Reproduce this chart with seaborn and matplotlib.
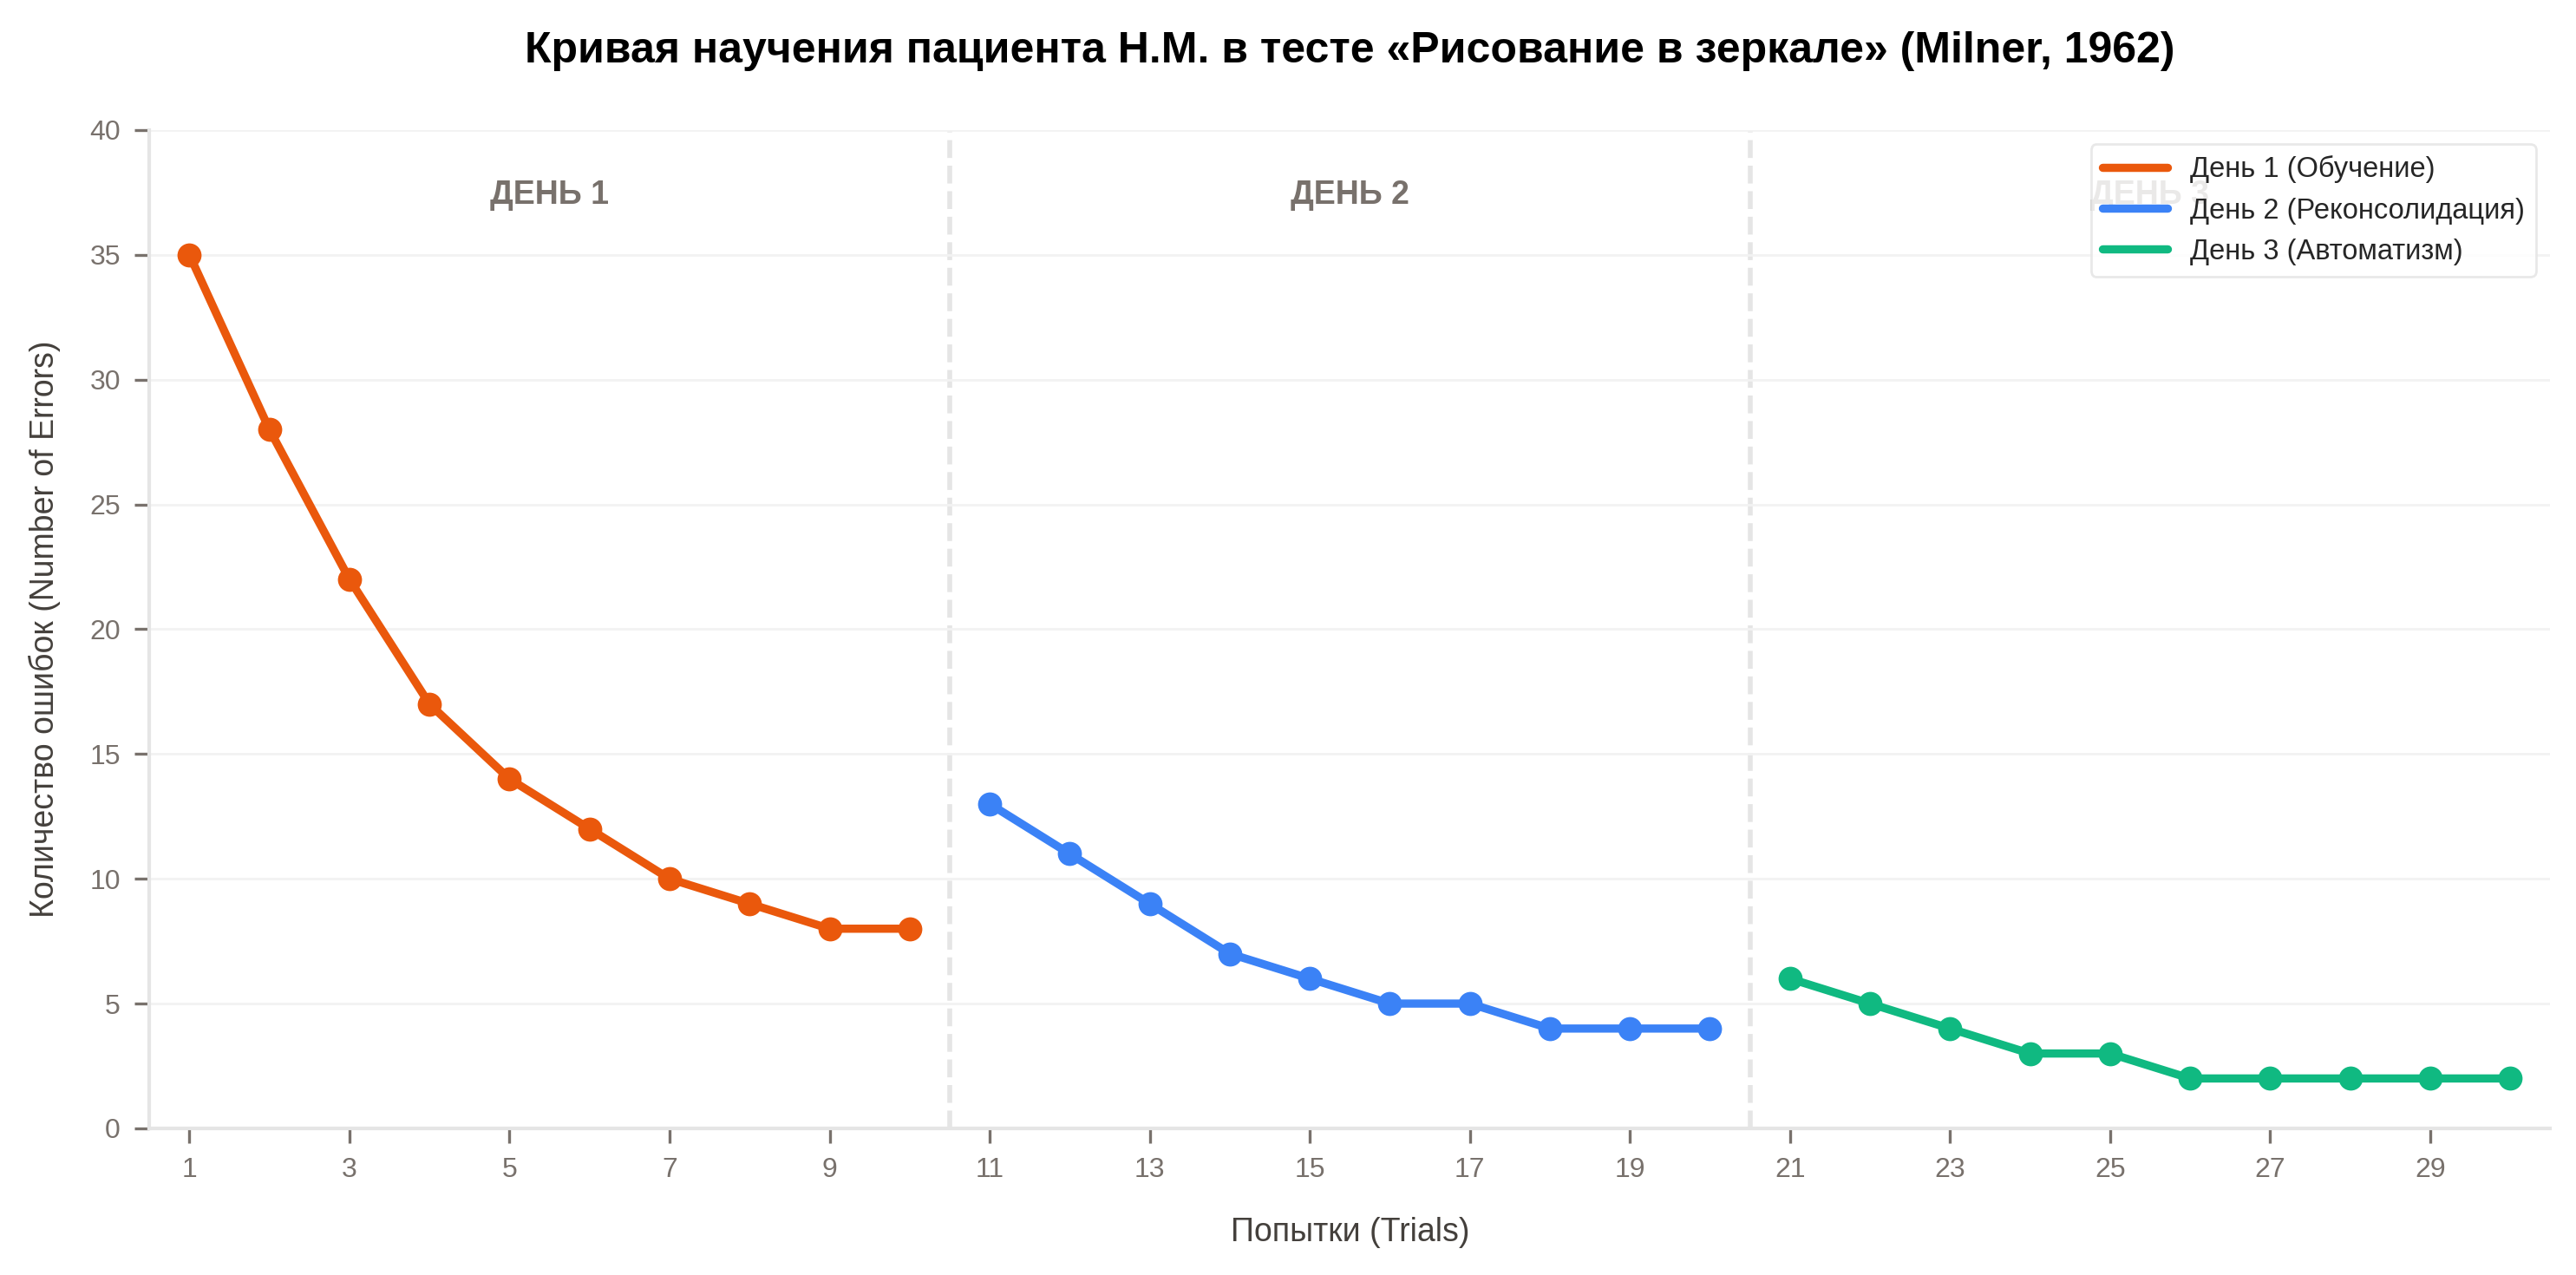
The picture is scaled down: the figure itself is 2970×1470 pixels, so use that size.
import pandas as pd
import matplotlib.pyplot as plt
from matplotlib.lines import Line2D
import seaborn as sns

sns.set_style("white")
plt.rcParams['font.family'] = ['Liberation Sans', 'DejaVu Sans']

# data
trials_day1 = list(range(1, 11))
trials_day2 = list(range(11, 21))
trials_day3 = list(range(21, 31))
errors_day1 = [35, 28, 22, 17, 14, 12, 10, 9, 8, 8]
errors_day2 = [13, 11, 9, 7, 6, 5, 5, 4, 4, 4]
errors_day3 = [6, 5, 4, 3, 3, 2, 2, 2, 2, 2]
day_names = ["День 1 (Обучение)", "День 2 (Реконсолидация)", "День 3 (Автоматизм)"]
day_tags = ["ДЕНЬ 1", "ДЕНЬ 2", "ДЕНЬ 3"]
colors = ["#ea580c", "#3b82f6", "#10b981"]

dataframe = pd.DataFrame({
    "Trial": trials_day1 + trials_day2 + trials_day3,
    "Errors": errors_day1 + errors_day2 + errors_day3,
    "Day": [day_names[0]] * 10 + [day_names[1]] * 10 + [day_names[2]] * 10,
})

fig, ax = plt.subplots(figsize=(14.85, 7.35), dpi=200)
fig.subplots_adjust(left=0.058, right=0.99, top=0.898, bottom=0.115)

sns.lineplot(
    data=dataframe,
    x="Trial",
    y="Errors",
    hue="Day",
    palette=colors,
    marker="o",
    markersize=10,
    markeredgewidth=0,
    linewidth=3.4,
    legend=False,
    ax=ax,
)

# separators between days
for boundary in [10.5, 20.5]:
    ax.axvline(boundary, color="#e5e5e5", linestyle="--", linewidth=2, zorder=0)

# day labels on top
for i, tag in enumerate(day_tags):
    ax.text(5.5 + 10 * i, 37.4, tag, ha="center", va="center",
            fontsize=13.5, fontweight="bold", color="#78716c")

ax.set_xlim(0.5, 30.5)
ax.set_ylim(0, 40)
ax.set_xticks(range(1, 31, 2))
ax.set_yticks(range(0, 41, 5))
ax.yaxis.grid(True, color="#f2f2f2", linewidth=1)
ax.set_axisbelow(True)

for side in ["top", "right"]:
    ax.spines[side].set_visible(False)
for side in ["left", "bottom"]:
    ax.spines[side].set_color("#e5e5e5")
    ax.spines[side].set_linewidth(1.5)
ax.tick_params(axis="both", bottom=True, left=True, colors="#78716c",
               labelsize=11.5, length=6, width=1.2, pad=6)

ax.set_title("Кривая научения пациента Н.М. в тесте «Рисование в зеркале» (Milner, 1962)",
             fontsize=18, fontweight="bold", pad=28, color="black")
ax.set_xlabel("Попытки (Trials)", fontsize=13.5, color="#44403c", labelpad=14)
ax.set_ylabel("Количество ошибок (Number of Errors)", fontsize=13.5, color="#44403c", labelpad=12)

handles = [Line2D([0], [0], color=c, linewidth=3.4) for c in colors]
legend = ax.legend(handles, day_names, loc="upper right", fontsize=11.75,
                   handlelength=2.3, frameon=True, fancybox=True, framealpha=0.85)
legend.get_frame().set_edgecolor("#e5e5e5")

plt.savefig("out.png", dpi=200)
